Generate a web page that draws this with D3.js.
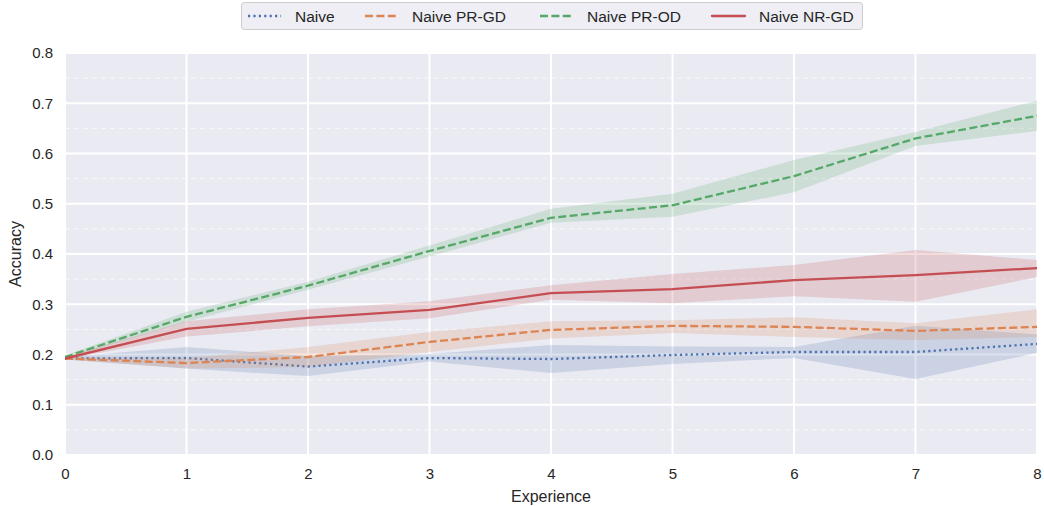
<!DOCTYPE html>
<html>
<head>
<meta charset="utf-8">
<script src="https://cdn.jsdelivr.net/npm/d3@7"></script>
<style>
  html, body { margin: 0; padding: 0; background: #ffffff; }
  svg { display: block; font-family: "Liberation Sans", Arial, sans-serif; }
</style>
</head>
<body>
<svg id="chart" width="1044" height="506"></svg>
<script>
// Experience index on the x axis
const experiences = [0, 1, 2, 3, 4, 5, 6, 7, 8];

// Mean accuracy per experience for each strategy
const naiveMean   = [0.192, 0.193, 0.176, 0.193, 0.191, 0.199, 0.205, 0.205, 0.221];
const prgdMean    = [0.192, 0.183, 0.195, 0.225, 0.249, 0.257, 0.255, 0.247, 0.255];
const prodMean    = [0.195, 0.275, 0.337, 0.406, 0.472, 0.497, 0.555, 0.630, 0.675];
const nrgdMean    = [0.192, 0.251, 0.273, 0.289, 0.322, 0.330, 0.348, 0.358, 0.372];

// Confidence band bounds (lower / upper)
const naiveLow    = [0.190, 0.172, 0.157, 0.186, 0.163, 0.181, 0.193, 0.151, 0.203];
const naiveHigh   = [0.195, 0.215, 0.197, 0.201, 0.219, 0.216, 0.215, 0.257, 0.240];
const prgdLow     = [0.190, 0.172, 0.175, 0.205, 0.232, 0.243, 0.235, 0.229, 0.235];
const prgdHigh    = [0.195, 0.193, 0.215, 0.245, 0.266, 0.268, 0.274, 0.262, 0.290];
const prodLow     = [0.192, 0.265, 0.329, 0.395, 0.462, 0.474, 0.523, 0.615, 0.645];
const prodHigh    = [0.198, 0.285, 0.345, 0.417, 0.490, 0.520, 0.587, 0.643, 0.705];
const nrgdLow     = [0.190, 0.236, 0.256, 0.272, 0.309, 0.302, 0.316, 0.305, 0.354];
const nrgdHigh    = [0.195, 0.266, 0.290, 0.306, 0.338, 0.360, 0.378, 0.408, 0.388];

const seriesNames = ["Naive", "Naive PR-GD", "Naive PR-OD", "Naive NR-GD"];
const yTicks = [0.0, 0.1, 0.2, 0.3, 0.4, 0.5, 0.6, 0.7, 0.8];
const yMinorTicks = [0.05, 0.15, 0.25, 0.35, 0.45, 0.55, 0.65, 0.75];

const series = [
  { name: seriesNames[0], mean: naiveMean, low: naiveLow, high: naiveHigh, color: "#4c72b0", dash: "2.2,3.2", cap: "butt" },
  { name: seriesNames[1], mean: prgdMean,  low: prgdLow,  high: prgdHigh,  color: "#dd8452", dash: "8,3.4", cap: "butt" },
  { name: seriesNames[2], mean: prodMean,  low: prodLow,  high: prodHigh,  color: "#55a868", dash: "8,3.4", cap: "butt" },
  { name: seriesNames[3], mean: nrgdMean,  low: nrgdLow,  high: nrgdHigh,  color: "#c44e52", dash: null, cap: "round" }
];

const svg = d3.select("#chart");
const margin = { left: 65, right: 7, top: 53, bottom: 51 };
const W = 1044, H = 506;
const plotW = W - margin.left - margin.right;
const plotH = H - margin.top - margin.bottom;

const x = d3.scaleLinear().domain([0, 8]).range([margin.left, margin.left + plotW]);
const y = d3.scaleLinear().domain([0, 0.8]).range([margin.top + plotH, margin.top]);

// Axes background
svg.append("rect")
  .attr("x", margin.left).attr("y", margin.top)
  .attr("width", plotW).attr("height", plotH)
  .attr("fill", "#eaeaf2");

const grid = svg.append("g");
// Minor horizontal grid (dashed)
grid.selectAll("line.minor").data(yMinorTicks).join("line")
  .attr("class", "minor")
  .attr("x1", margin.left).attr("x2", margin.left + plotW)
  .attr("y1", d => y(d)).attr("y2", d => y(d))
  .attr("stroke", "#f7f7fa").attr("stroke-width", 1)
  .attr("stroke-dasharray", "5,4");
// Major horizontal grid
grid.selectAll("line.hmajor").data(yTicks).join("line")
  .attr("class", "hmajor")
  .attr("x1", margin.left).attr("x2", margin.left + plotW)
  .attr("y1", d => y(d)).attr("y2", d => y(d))
  .attr("stroke", "#ffffff").attr("stroke-width", 2);
// Vertical grid
grid.selectAll("line.vmajor").data(experiences).join("line")
  .attr("class", "vmajor")
  .attr("x1", d => x(d)).attr("x2", d => x(d))
  .attr("y1", margin.top).attr("y2", margin.top + plotH)
  .attr("stroke", "#ffffff").attr("stroke-width", 2);

svg.append("clipPath").attr("id", "plotclip")
  .append("rect").attr("x", margin.left).attr("y", margin.top)
  .attr("width", plotW).attr("height", plotH);

const plot = svg.append("g").attr("clip-path", "url(#plotclip)");

const area = d3.area()
  .x((d, i) => x(experiences[i]))
  .y0(d => y(d[0]))
  .y1(d => y(d[1]));
const line = d3.line()
  .x((d, i) => x(experiences[i]))
  .y(d => y(d));

series.forEach(s => {
  plot.append("path")
    .datum(s.low.map((v, i) => [v, s.high[i]]))
    .attr("d", area)
    .attr("fill", s.color)
    .attr("fill-opacity", 0.2)
    .attr("stroke", "none");
  plot.append("path")
    .datum(s.mean)
    .attr("d", line)
    .attr("fill", "none")
    .attr("stroke", s.color)
    .attr("stroke-width", 2.3)
    .attr("stroke-linecap", s.cap)
    .attr("stroke-dasharray", s.dash);
});

// Axes ticks (labels only, seaborn darkgrid style)
const xAxis = d3.axisBottom(x).tickValues(experiences).tickFormat(d3.format("d")).tickSize(0).tickPadding(13);
const yAxis = d3.axisLeft(y).tickValues(yTicks).tickFormat(d3.format(".1f")).tickSize(0).tickPadding(12);

const gx = svg.append("g").attr("transform", `translate(0,${margin.top + plotH})`).call(xAxis);
const gy = svg.append("g").attr("transform", `translate(${margin.left},0)`).call(yAxis);
[gx, gy].forEach(g => {
  g.select(".domain").remove();
  g.selectAll("text").attr("fill", "#262626").style("font-size", "15px")
    .style("font-family", "'Liberation Sans', Arial, sans-serif");
});

svg.append("text")
  .attr("x", margin.left + plotW / 2).attr("y", 502)
  .attr("text-anchor", "middle")
  .attr("fill", "#262626").style("font-size", "16px")
  .text("Experience");

svg.append("text")
  .attr("transform", `translate(21,${margin.top + plotH / 2}) rotate(-90)`)
  .attr("text-anchor", "middle")
  .attr("fill", "#262626").style("font-size", "16px")
  .text("Accuracy");

// Legend
const legend = svg.append("g");
legend.append("rect")
  .attr("x", 241.5).attr("y", 2.5).attr("width", 621).attr("height", 27)
  .attr("rx", 3).attr("ry", 3)
  .attr("fill", "#eeeef4").attr("stroke", "#cccccc").attr("stroke-width", 1);

const legendX = [248, 365, 540, 712];
series.forEach((s, i) => {
  const lg = legend.append("g").attr("transform", `translate(${legendX[i]},16)`);
  lg.append("line")
    .attr("x1", 0).attr("x2", 33).attr("y1", 0).attr("y2", 0)
    .attr("stroke", s.color).attr("stroke-width", 2.3)
    .attr("stroke-linecap", s.cap)
    .attr("stroke-dasharray", s.dash);
  lg.append("text")
    .attr("x", 47).attr("y", 5.5)
    .attr("fill", "#262626").style("font-size", "15.5px")
    .text(s.name);
});
</script>
</body>
</html>
